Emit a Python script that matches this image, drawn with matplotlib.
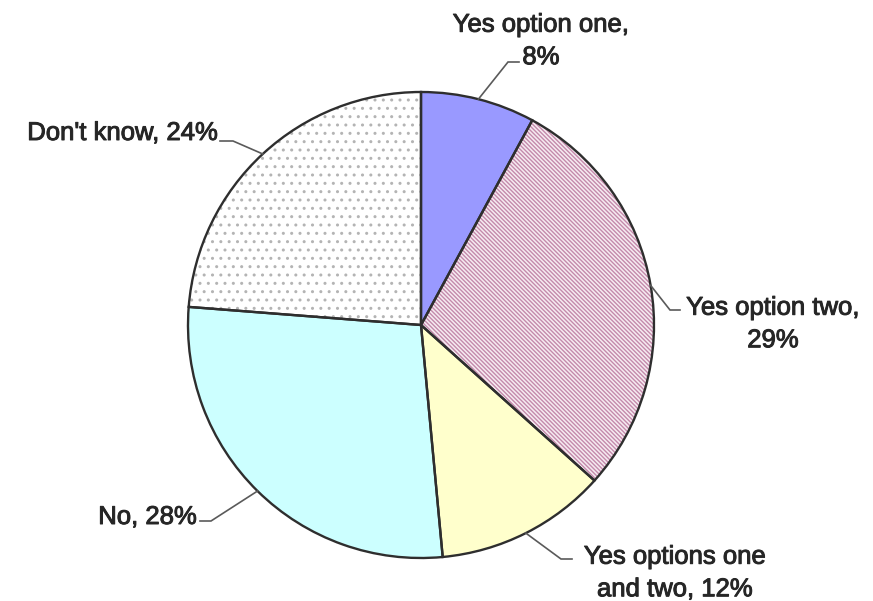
import numpy as np
import matplotlib
matplotlib.use("Agg")
import matplotlib.pyplot as plt
import matplotlib.patheffects as pe

# Survey answers, percent
categories = ["Yes option one", "Yes option two", "Yes options one and two", "No", "Don't know"]
label_text = ["Yes option one,\n8%", "Yes option two,\n29%", "Yes options one\nand two, 12%",
              "No, 28%", "Don't know, 24%"]
values = [8, 29, 12, 28, 24]

face_colors = ["#9999ff", "#f6ebf1", "#ffffcc", "#ccffff", "#ffffff"]
hatch_colors = ["#9999ff", "#c48aab", "#ffffcc", "#ccffff", "#b4b4b4"]
hatches = [None, "\\\\\\\\\\\\\\\\", None, None, ".."]

W, H = 873, 601
R_PX = 233.0           # pie radius in pixels
CX, CY = 421.0, 325.0  # pie centre in pixels (from top-left)

plt.rcParams["hatch.linewidth"] = 1.0

fig = plt.figure(figsize=(W / 100, H / 100), dpi=100)
ax = fig.add_axes([0, 0, 1, 1])


def px(x, y):
    """Convert pixel position (top-left origin) to data coordinates."""
    return (x - CX) / R_PX, (CY - y) / R_PX


# fill + pattern layer
wedges, _ = ax.pie(values, startangle=90, counterclock=False, radius=1.0,
                   colors=face_colors, wedgeprops=dict(linewidth=0))
for w, h, hc in zip(wedges, hatches, hatch_colors):
    w.set_edgecolor(hc)
    if h:
        w.set_hatch(h)

# outline layer
outl, _ = ax.pie(values, startangle=90, counterclock=False, radius=1.0,
                 wedgeprops=dict(fill=False, edgecolor="#2e2e2e", linewidth=1.7))

text_color = "#262626"
font = dict(family="Liberation Sans", fontsize=18.5, color=text_color)
thicken = [pe.withStroke(linewidth=0.7, foreground=text_color)]

# label layout: (elbow px, end px, text anchor px, ha)
layout = [
    ((508, 62), (519, 62), (541, 41), "center"),
    ((670, 310), (680, 310), (773, 324), "center"),
    ((561, 559), (572, 559), (675, 573), "center"),
    ((211, 521), (200, 521), (197, 517), "right"),
    ((233, 141), (220, 141), (218, 133), "right"),
]

for w, txt, (elbow, end, anchor, ha) in zip(outl, label_text, layout):
    mid = np.deg2rad((w.theta1 + w.theta2) / 2.0)
    sx, sy = np.cos(mid), np.sin(mid)
    ex, ey = px(*elbow)
    tx, ty = px(*end)
    ax.plot([sx, ex, tx], [sy, ey, ty], color="#5a5a5a", linewidth=1.2,
            solid_joinstyle="miter")
    ax_, ay_ = px(*anchor)
    ax.text(ax_, ay_, txt, ha=ha, va="center", multialignment="center",
            linespacing=1.45, path_effects=thicken, **font)

ax.set_xlim(-CX / R_PX, (W - CX) / R_PX)
ax.set_ylim(-(H - CY) / R_PX, CY / R_PX)
ax.set_aspect("equal")
ax.axis("off")

fig.savefig("out.png", dpi=100)
